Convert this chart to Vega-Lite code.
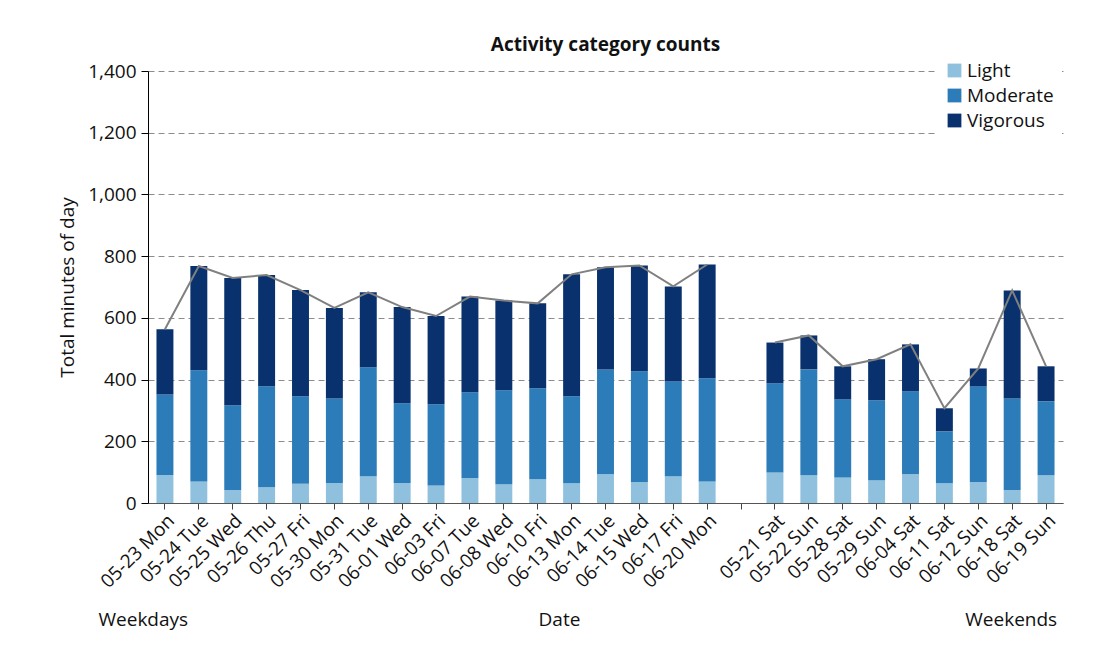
{
  "$schema": "https://vega.github.io/schema/vega-lite/v6.json",
  "autosize": {"type": "none"},
  "padding": {"left": 148, "top": 71, "right": 35, "bottom": 151},
  "width": 915,
  "height": 432,
  "background": "white",
  "config": {
    "font": "Open Sans",
    "view": {"stroke": null},
    "axis": {"labelFont": "Open Sans", "titleFont": "Open Sans", "labelColor": "#111", "titleColor": "#111"},
    "legend": {"labelFont": "Open Sans"}
  },
  "title": {
    "text": "Activity category counts",
    "fontSize": 19,
    "fontWeight": "bold",
    "anchor": "middle",
    "frame": "group",
    "offset": -2,
    "color": "#111"
  },
  "data": {
    "values": [
      {"date": "05-23 Mon", "group": "Weekdays", "Light": 91, "Moderate": 261, "Vigorous": 211},
      {"date": "05-24 Tue", "group": "Weekdays", "Light": 70, "Moderate": 360, "Vigorous": 338},
      {"date": "05-25 Wed", "group": "Weekdays", "Light": 41, "Moderate": 276, "Vigorous": 412},
      {"date": "05-26 Thu", "group": "Weekdays", "Light": 51, "Moderate": 327, "Vigorous": 361},
      {"date": "05-27 Fri", "group": "Weekdays", "Light": 62, "Moderate": 284, "Vigorous": 344},
      {"date": "05-30 Mon", "group": "Weekdays", "Light": 65, "Moderate": 274, "Vigorous": 293},
      {"date": "05-31 Tue", "group": "Weekdays", "Light": 87, "Moderate": 353, "Vigorous": 243},
      {"date": "06-01 Wed", "group": "Weekdays", "Light": 65, "Moderate": 258, "Vigorous": 312},
      {"date": "06-03 Fri", "group": "Weekdays", "Light": 57, "Moderate": 263, "Vigorous": 286},
      {"date": "06-07 Tue", "group": "Weekdays", "Light": 80, "Moderate": 279, "Vigorous": 310},
      {"date": "06-08 Wed", "group": "Weekdays", "Light": 61, "Moderate": 304, "Vigorous": 291},
      {"date": "06-10 Fri", "group": "Weekdays", "Light": 77, "Moderate": 295, "Vigorous": 275},
      {"date": "06-13 Mon", "group": "Weekdays", "Light": 64, "Moderate": 282, "Vigorous": 395},
      {"date": "06-14 Tue", "group": "Weekdays", "Light": 93, "Moderate": 340, "Vigorous": 331},
      {"date": "06-15 Wed", "group": "Weekdays", "Light": 67, "Moderate": 360, "Vigorous": 343},
      {"date": "06-17 Fri", "group": "Weekdays", "Light": 87, "Moderate": 307, "Vigorous": 308},
      {"date": "06-20 Mon", "group": "Weekdays", "Light": 70, "Moderate": 334, "Vigorous": 369},
      {"date": "05-21 Sat", "group": "Weekends", "Light": 99, "Moderate": 289, "Vigorous": 132},
      {"date": "05-22 Sun", "group": "Weekends", "Light": 90, "Moderate": 343, "Vigorous": 110},
      {"date": "05-28 Sat", "group": "Weekends", "Light": 83, "Moderate": 253, "Vigorous": 107},
      {"date": "05-29 Sun", "group": "Weekends", "Light": 74, "Moderate": 259, "Vigorous": 133},
      {"date": "06-04 Sat", "group": "Weekends", "Light": 93, "Moderate": 269, "Vigorous": 152},
      {"date": "06-11 Sat", "group": "Weekends", "Light": 64, "Moderate": 168, "Vigorous": 75},
      {"date": "06-12 Sun", "group": "Weekends", "Light": 67, "Moderate": 311, "Vigorous": 58},
      {"date": "06-18 Sat", "group": "Weekends", "Light": 41, "Moderate": 298, "Vigorous": 350},
      {"date": "06-19 Sun", "group": "Weekends", "Light": 90, "Moderate": 240, "Vigorous": 113}
    ]
  },
  "transform": [
    {"fold": ["Light", "Moderate", "Vigorous"], "as": ["category", "minutes"]}
  ],
  "encoding": {
    "x": {
      "field": "date",
      "type": "nominal",
      "sort": null,
      "scale": {
        "domain": ["05-23 Mon", "05-24 Tue", "05-25 Wed", "05-26 Thu", "05-27 Fri", "05-30 Mon", "05-31 Tue", "06-01 Wed", "06-03 Fri", "06-07 Tue", "06-08 Wed", "06-10 Fri", "06-13 Mon", "06-14 Tue", "06-15 Wed", "06-17 Fri", "06-20 Mon", "gap", "05-21 Sat", "05-22 Sun", "05-28 Sat", "05-29 Sun", "06-04 Sat", "06-11 Sat", "06-12 Sun", "06-18 Sat", "06-19 Sun"],
        "paddingInner": 0.5,
        "paddingOuter": 0.25
      },
      "axis": {
        "labelExpr": "datum.value == 'gap' ? '' : datum.value",
        "labelAngle": -45,
        "labelFontSize": 19,
        "labelPadding": 2,
        "tickSize": 6,
        "tickColor": "#444",
        "domainColor": "#555",
        "grid": false,
        "title": "Weekdays\u00a0\u00a0\u00a0\u00a0\u00a0\u00a0\u00a0\u00a0\u00a0\u00a0\u00a0\u00a0\u00a0\u00a0\u00a0\u00a0\u00a0\u00a0\u00a0\u00a0\u00a0\u00a0\u00a0\u00a0\u00a0\u00a0\u00a0\u00a0\u00a0\u00a0\u00a0\u00a0\u00a0\u00a0\u00a0\u00a0\u00a0\u00a0\u00a0\u00a0\u00a0\u00a0\u00a0\u00a0\u00a0\u00a0\u00a0\u00a0\u00a0\u00a0\u00a0\u00a0\u00a0\u00a0\u00a0\u00a0\u00a0\u00a0\u00a0\u00a0\u00a0\u00a0\u00a0\u00a0\u00a0\u00a0\u00a0\u00a0\u00a0\u00a0\u00a0Date\u00a0\u00a0\u00a0\u00a0\u00a0\u00a0\u00a0\u00a0\u00a0\u00a0\u00a0\u00a0\u00a0\u00a0\u00a0\u00a0\u00a0\u00a0\u00a0\u00a0\u00a0\u00a0\u00a0\u00a0\u00a0\u00a0\u00a0\u00a0\u00a0\u00a0\u00a0\u00a0\u00a0\u00a0\u00a0\u00a0\u00a0\u00a0\u00a0\u00a0\u00a0\u00a0\u00a0\u00a0\u00a0\u00a0\u00a0\u00a0\u00a0\u00a0\u00a0\u00a0\u00a0\u00a0\u00a0\u00a0\u00a0\u00a0\u00a0\u00a0\u00a0\u00a0\u00a0\u00a0\u00a0\u00a0\u00a0\u00a0\u00a0\u00a0\u00a0\u00a0\u00a0\u00a0\u00a0\u00a0\u00a0\u00a0Weekends",
        "titleFontSize": 19,
        "titleFontWeight": "normal",
        "titleAnchor": "start",
        "titleAlign": "left",
        "titleBaseline": "alphabetic",
        "titleLimit": 2000,
        "titleX": -50,
        "titleY": 122
      }
    }
  },
  "layer": [
    {
      "mark": {"type": "bar"},
      "encoding": {
        "y": {
          "field": "minutes",
          "type": "quantitative",
          "stack": "zero",
          "scale": {"domain": [0, 1400], "nice": false},
          "axis": {
            "values": [0, 200, 400, 600, 800, 1000, 1200, 1400],
            "format": ",.0f",
            "title": "Total minutes of day",
            "titleFontSize": 19,
            "titleFontWeight": "normal",
            "titlePadding": 10,
            "labelFontSize": 19,
            "labelPadding": 5,
            "tickSize": 7,
            "tickColor": "#000",
            "domainColor": "#000",
            "grid": true,
            "gridDash": [6, 4],
            "gridColor": "#8c8c8c",
            "gridWidth": 1
          }
        },
        "color": {
          "field": "category",
          "type": "nominal",
          "scale": {"domain": ["Light", "Moderate", "Vigorous"], "range": ["#8fc1de", "#2c7cba", "#08316d"]},
          "legend": {
            "title": null,
            "orient": "none",
            "legendX": 789,
            "legendY": -18,
            "fillColor": "white",
            "padding": 8,
            "symbolType": "square",
            "symbolSize": 190,
            "symbolStrokeWidth": 0,
            "labelFontSize": 19,
            "labelOffset": 3,
            "labelColor": "#111",
            "rowPadding": 5
          }
        },
        "order": {"field": "category", "type": "nominal", "sort": "ascending"}
      }
    },
    {
      "mark": {"type": "line", "color": "#808080", "strokeWidth": 2},
      "encoding": {
        "y": {"aggregate": "sum", "field": "minutes", "type": "quantitative", "title": "Total minutes of day"},
        "detail": {"field": "group", "type": "nominal"}
      }
    }
  ]
}
